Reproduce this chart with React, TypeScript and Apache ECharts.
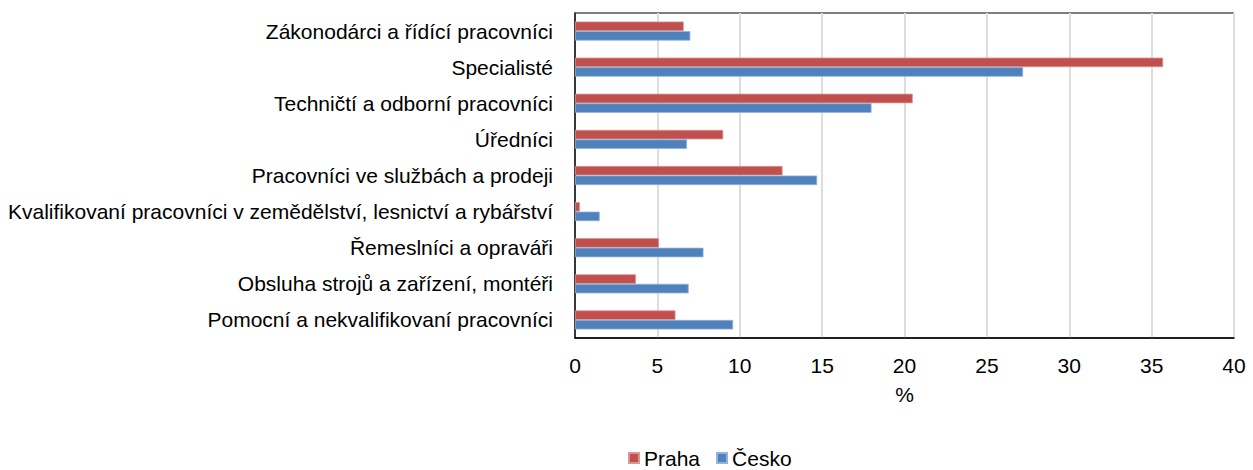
import React, { useEffect, useRef } from "react";
import * as echarts from "echarts";

const categories = [
  "Zákonodárci a řídící pracovníci",
  "Specialisté",
  "Techničtí a odborní pracovníci",
  "Úředníci",
  "Pracovníci ve službách a prodeji",
  "Kvalifikovaní pracovníci v zemědělství, lesnictví a rybářství",
  "Řemeslníci a opraváři",
  "Obsluha strojů a zařízení, montéři",
  "Pomocní a nekvalifikovaní pracovníci",
];
const praha = [6.6, 35.7, 20.5, 9.0, 12.6, 0.3, 5.1, 3.7, 6.1];
const cesko = [7.0, 27.2, 18.0, 6.8, 14.7, 1.5, 7.8, 6.9, 9.6];
const seriesNames = ["Praha", "Česko"];

const FONT = "Liberation Sans, Arial, sans-serif";
const FS = 21;

export default function App() {
  const ref = useRef<HTMLDivElement>(null);
  useEffect(() => {
    if (!ref.current) return;
    const chart = echarts.init(ref.current, undefined, { renderer: "svg" });
    chart.setOption({
      animation: false,
      textStyle: { fontFamily: FONT },
      grid: {
        left: 575,
        right: 19,
        top: 13,
        bottom: 132,
        show: true,
        borderColor: "#000",
        borderWidth: 1,
      },
      legend: {
        top: 447,
        left: 628,
        padding: 0,
        itemWidth: 10,
        itemHeight: 10,
        itemGap: 16,
        icon: "rect",
        textStyle: { fontSize: FS, color: "#000", fontFamily: FONT, lineHeight: 22 },
        data: seriesNames,
      },
      xAxis: {
        type: "value",
        min: 0,
        max: 40,
        interval: 5,
        name: "%",
        nameLocation: "middle",
        nameGap: 46,
        nameTextStyle: { fontSize: FS, color: "#000", fontFamily: FONT },
        axisLine: { show: true, lineStyle: { color: "#000", width: 1.5 } },
        axisTick: { show: false },
        axisLabel: { fontSize: FS, color: "#000", margin: 17, fontFamily: FONT },
        splitLine: { show: true, lineStyle: { color: "#DDDDDD", width: 2 } },
      },
      yAxis: {
        type: "category",
        data: categories,
        inverse: true,
        axisLine: { show: true, lineStyle: { color: "#000", width: 1.5 } },
        axisTick: { show: false },
        axisLabel: { fontSize: FS, color: "#000", margin: 22, fontFamily: FONT },
      },
      series: [
        {
          name: seriesNames[0],
          type: "bar",
          data: praha,
          barGap: "0%",
          barCategoryGap: "47%",
          itemStyle: { color: "#C0504D", borderColor: "#D99694", borderWidth: 0.8 },
        },
        {
          name: seriesNames[1],
          type: "bar",
          data: cesko,
          barGap: "0%",
          barCategoryGap: "47%",
          itemStyle: { color: "#4F81BD", borderColor: "#95B3D7", borderWidth: 0.8 },
        },
      ],
    });
    return () => chart.dispose();
  }, []);
  return (
    <div
      ref={ref}
      style={{ position: "fixed", left: 0, top: 0, width: 1253, height: 470, background: "#fff" }}
    />
  );
}
